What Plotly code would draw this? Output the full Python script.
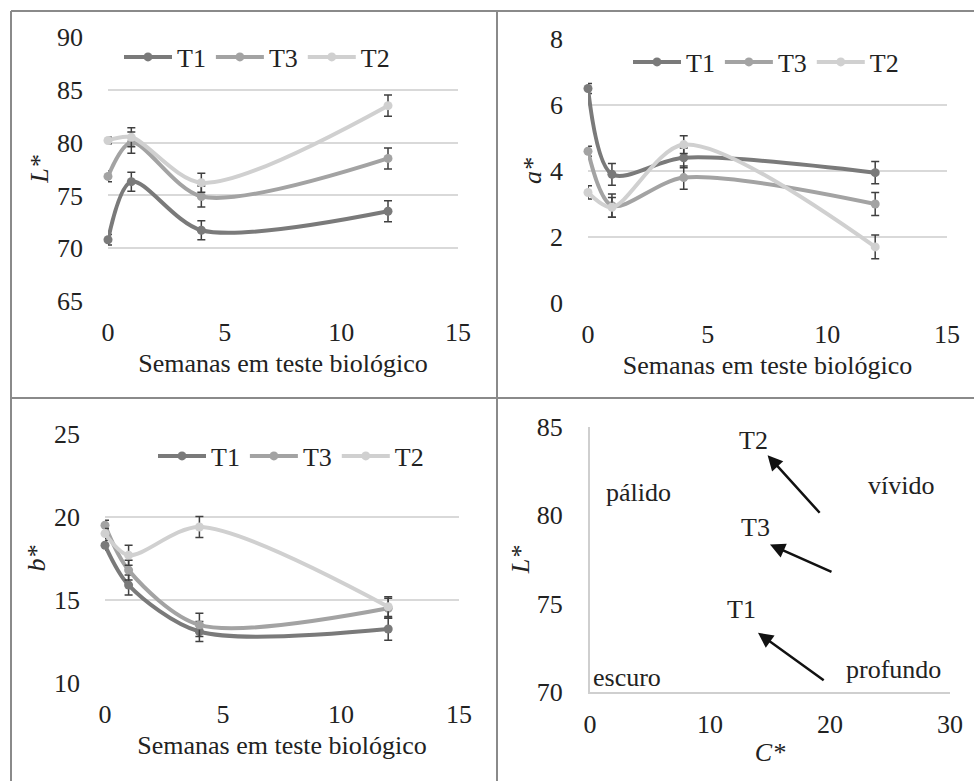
import plotly.graph_objects as go

# ---------------- data ----------------
weeks = [0, 1, 4, 12]
series_names = ["T1", "T3", "T2"]
series_colors = ["#7a7a7a", "#a3a3a3", "#d0d0d0"]

L_T1 = [70.8, 76.3, 71.7, 73.5]
L_T3 = [76.8, 80.0, 74.9, 78.5]
L_T2 = [80.2, 80.5, 76.2, 83.5]
L_T1_err = [0.5, 0.9, 0.9, 1.0]
L_T3_err = [0.5, 1.0, 1.0, 1.0]
L_T2_err = [0.3, 0.9, 0.9, 1.0]

a_T1 = [6.5, 3.9, 4.4, 3.95]
a_T3 = [4.6, 2.95, 3.8, 3.0]
a_T2 = [3.35, 2.9, 4.8, 1.7]
a_T1_err = [0.15, 0.33, 0.3, 0.34]
a_T3_err = [0.15, 0.35, 0.35, 0.35]
a_T2_err = [0.2, 0.3, 0.27, 0.36]

b_T1 = [18.3, 15.9, 13.1, 13.25]
b_T3 = [19.5, 16.8, 13.5, 14.5]
b_T2 = [19.0, 17.7, 19.4, 14.6]
b_T1_err = [0.3, 0.6, 0.6, 0.67]
b_T3_err = [0.3, 0.6, 0.7, 0.6]
b_T2_err = [0.3, 0.6, 0.63, 0.6]

# C*-L* diagram: arrows from week 0 (start) to week 12 (end)
arrow_names = ["T1", "T2", "T3"]
C_start = [19.6, 19.25, 20.25]
L_start = [70.6, 80.06, 76.76]
C_end = [14.0, 14.8, 15.0]
L_end = [73.35, 83.4, 78.35]
label_C = [12.6, 13.6, 13.75]
label_L = [74.66, 84.26, 79.3]
region_names = ["pálido", "vívido", "profundo", "escuro"]
region_C = [4.0, 25.9, 25.25, 3.1]
region_L = [81.3, 81.7, 71.25, 70.8]

x_title = "Semanas em teste biológico"
FONT = "Times New Roman, Liberation Serif, DejaVu Serif, serif"
FS = 26

fig = go.Figure()

panels = [
    ("x", "y", "legend", [L_T1, L_T3, L_T2], [L_T1_err, L_T3_err, L_T2_err]),
    ("x2", "y2", "legend2", [a_T1, a_T3, a_T2], [a_T1_err, a_T3_err, a_T2_err]),
    ("x3", "y3", "legend3", [b_T1, b_T3, b_T2], [b_T1_err, b_T3_err, b_T2_err]),
]
for xa, ya, lg, vals, errs in panels:
    for name, col, v, e in zip(series_names, series_colors, vals, errs):
        fig.add_trace(go.Scatter(
            x=weeks, y=v, name=name, mode="lines+markers",
            line=dict(color=col, width=4, shape="spline", smoothing=0.85),
            marker=dict(color=col, size=9),
            error_y=dict(type="data", array=e, color="#404040", thickness=1.5, width=4),
            xaxis=xa, yaxis=ya, legend=lg, showlegend=True, cliponaxis=False,
        ))

# invisible trace so the 4th subplot is set up
fig.add_trace(go.Scatter(x=C_start, y=L_start, mode="markers", marker=dict(opacity=0),
                         xaxis="x4", yaxis="y4", showlegend=False, hoverinfo="skip"))

W, H = 974, 781
def px(x):
    return x / W
def py(y):
    return 1 - y / H

tickfont = dict(family=FONT, size=FS, color="#222")
titlefont = dict(family=FONT, size=FS, color="#222")

def xaxis_cfg(dom, rng, dtick, anchor):
    return dict(domain=dom, range=rng, dtick=dtick, tick0=0, showgrid=False, zeroline=False,
                showline=False, ticks="", tickfont=tickfont, ticklabelstandoff=13,
                title=dict(text=x_title, font=titlefont, standoff=7), anchor=anchor,
                automargin=False, fixedrange=True)

def yaxis_cfg(dom, rng, dtick, anchor, title):
    return dict(domain=dom, range=rng, dtick=dtick, tick0=0, showgrid=True, gridcolor="#d9d9d9",
                gridwidth=1.5, zeroline=False, showline=False, ticks="", tickfont=tickfont,
                ticklabelstandoff=24, title=dict(text=title, font=titlefont, standoff=0),
                anchor=anchor, automargin=False, fixedrange=True)

fig.update_layout(
    width=W, height=H, margin=dict(l=0, r=0, t=0, b=0),
    paper_bgcolor="white", plot_bgcolor="white",
    font=dict(family=FONT, size=FS, color="#222"),
    xaxis=xaxis_cfg([px(108), px(458)], [0, 15], 5, "y"),
    yaxis=yaxis_cfg([py(301), py(37)], [65, 90], 5, "x", "<i>L*</i>"),
    xaxis2=xaxis_cfg([px(588), px(947)], [0, 15], 5, "y2"),
    yaxis2=yaxis_cfg([py(303), py(39)], [0, 8], 2, "x2", "<i>a*</i>"),
    xaxis3=xaxis_cfg([px(105), px(459)], [0, 15], 5, "y3"),
    yaxis3=yaxis_cfg([py(683), py(434)], [10, 25], 5, "x3", "<i>b*</i>"),
    xaxis4=dict(domain=[px(590), px(950)], range=[0, 30], dtick=10, tick0=0, showgrid=False,
                zeroline=False, showline=True, linecolor="#cfcfcf", linewidth=2, ticks="",
                tickfont=tickfont, ticklabelstandoff=8, anchor="y4",
                title=dict(text="<i>C*</i>", font=titlefont, standoff=5),
                automargin=False, fixedrange=True),
    yaxis4=dict(domain=[py(692), py(427)], range=[70, 85], dtick=5, tick0=0, showgrid=False,
                zeroline=False, showline=True, linecolor="#cfcfcf", linewidth=2, ticks="",
                tickfont=tickfont, ticklabelstandoff=20, anchor="x4",
                title=dict(text="<i>L*</i>", font=titlefont, standoff=0),
                automargin=False, fixedrange=True),
    showlegend=True,
)

leg_common = dict(orientation="h", xanchor="left", yanchor="middle", bgcolor="rgba(0,0,0,0)",
                  font=dict(family=FONT, size=FS, color="#222"), itemwidth=48,
                  itemclick=False, itemdoubleclick=False, tracegroupgap=0)
fig.update_layout(
    legend=dict(x=px(119), y=py(57), **leg_common),
    legend2=dict(x=px(628), y=py(62), **leg_common),
    legend3=dict(x=px(153), y=py(456), **leg_common),
)

# arrows and labels on the C*-L* diagram
for n, cs, ls, ce, le, lc, ll in zip(arrow_names, C_start, L_start, C_end, L_end, label_C, label_L):
    fig.add_annotation(x=ce, y=le, ax=cs, ay=ls, xref="x4", yref="y4", axref="x4", ayref="y4",
                       text="", showarrow=True, arrowhead=2, arrowsize=1.2, arrowwidth=2.5,
                       arrowcolor="#111", standoff=0)
    fig.add_annotation(x=lc, y=ll, xref="x4", yref="y4", text=n, showarrow=False,
                       font=dict(family=FONT, size=FS, color="#222"))
for n, c, l in zip(region_names, region_C, region_L):
    fig.add_annotation(x=c, y=l, xref="x4", yref="y4", text=n, showarrow=False,
                       font=dict(family=FONT, size=FS, color="#222"))

# frame lines
frame_col = "#8a8a8a"
for x0, y0, x1, y1 in [(11, 11, 974, 11), (11, 11, 11, 781), (497, 11, 497, 781), (11, 398, 974, 398)]:
    fig.add_shape(type="line", xref="paper", yref="paper", x0=px(x0), y0=py(y0), x1=px(x1), y1=py(y1),
                  line=dict(color=frame_col, width=2))

fig.write_html("out.html", config={"displayModeBar": False},
               post_script="document.body.style.margin='0';document.body.style.overflow='hidden';")
